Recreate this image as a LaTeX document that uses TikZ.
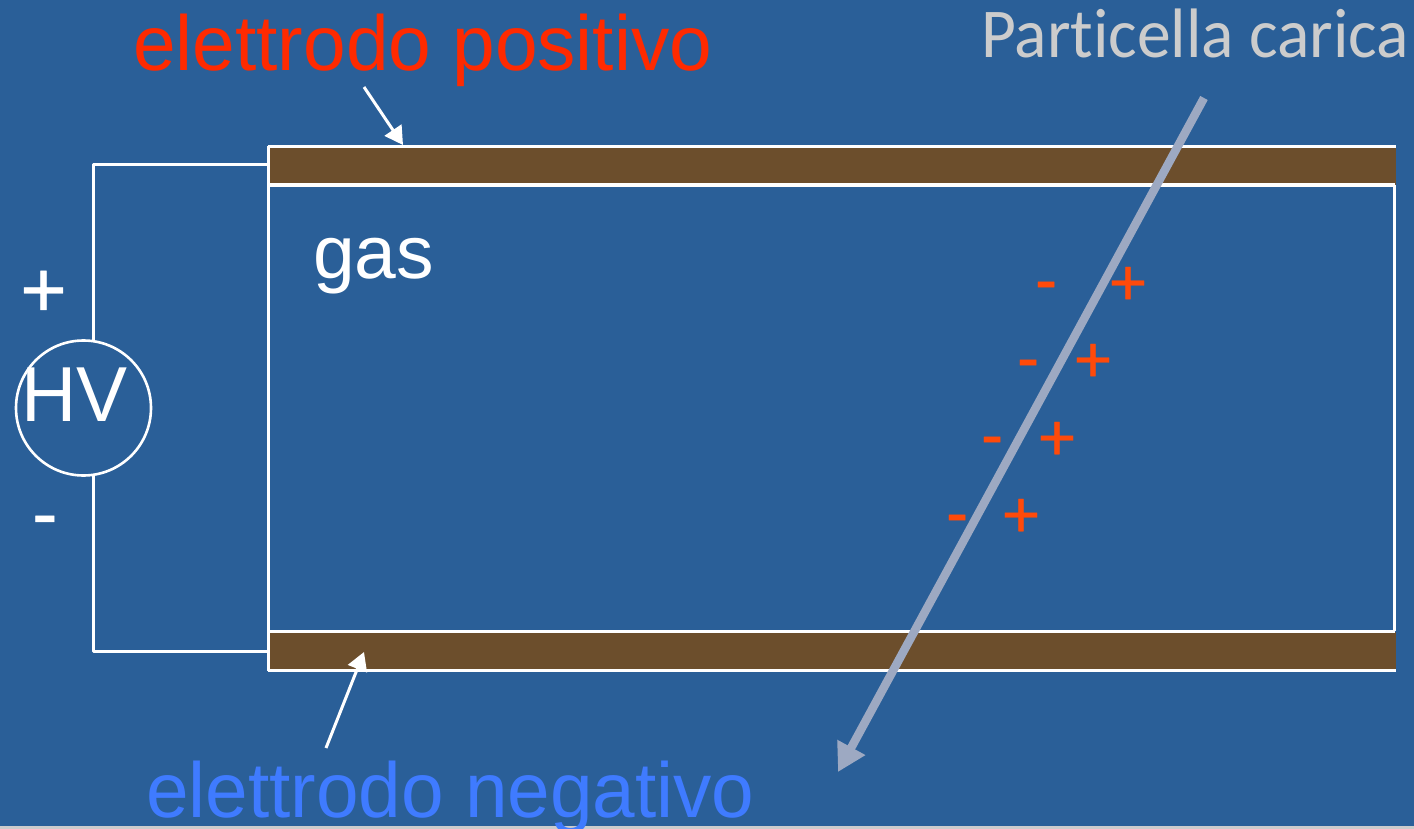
\documentclass[tikz,border=0pt]{standalone}
\usepackage{fontspec}
\setmainfont{Liberation Sans}
\newfontfamily\partfont[Ligatures=NoCommon,Contextuals=NoAlternate]{Carlito}
\newfontfamily\boldishfont[FakeBold=0.6]{Liberation Sans}
\usetikzlibrary{arrows.meta}
\definecolor{bgblue}{HTML}{2A5F98}
\definecolor{brownel}{HTML}{6C4E2C}
\definecolor{trackc}{HTML}{9DA9C2}
\definecolor{ionc}{HTML}{FF4A0A}
\definecolor{redt}{HTML}{FF2A00}
\definecolor{bluet}{HTML}{3F7BFF}
\definecolor{grayt}{HTML}{CCCCCC}
\tikzset{
  x=1pt,y=-1pt,
  wire/.style={draw=white,line width=3pt},
  electrode/.style={fill=brownel,draw=none},
  pointer/.style={draw=white,line width=3pt,-{Triangle[length=18pt,width=20pt,fill=white]}},
  track/.style={draw=trackc,line width=8.5pt,-{Triangle[length=28pt,width=30pt,fill=trackc]}},
  ion/.style={text=ionc,font=\boldishfont\fontsize{66}{66}\selectfont,inner sep=0pt},
  lab/.style={inner sep=0pt,anchor=base west,transform shape},
}
\begin{document}
\begin{tikzpicture}
\useasboundingbox (0,0) rectangle (1414,829);
\fill[bgblue] (0,0) rectangle (1414,829);
\fill[grayt] (0,826) rectangle (1414,829);
% electrodes
\fill[electrode] (268,146) rectangle (1396,185);
\fill[electrode] (268,632) rectangle (1396,671);
\coordinate (tl) at (268,146.5);
\coordinate (tr) at (1396,146.5);
\coordinate (il) at (268,184.7);
\coordinate (ir) at (1394.5,184.7);
\coordinate (bl) at (268,631);
\coordinate (br) at (1394.5,631);
\coordinate (ol) at (268,670.5);
\coordinate (or) at (1396,670.5);
\draw[wire] (tl) -- (tr);
\draw[wire,line width=3.8pt] (il) -- (ir);
\draw[wire] (bl) -- (br);
\draw[wire] (ol) -- (or);
\draw[wire] (tl) -- (ol);
\draw[wire] (ir) -- (br);
% HV source
\node[circle,draw=white,line width=2.6pt,minimum size=135pt,inner sep=0pt] (hv) at (83.5,408) {};
\node[lab,text=white,font=\fontsize{78}{78}\selectfont,xscale=.98] (hvt) at (21,421) {HV};
\coordinate (wtop) at (93,165);
\coordinate (wbot) at (93,651);
\coordinate (wtopin) at (268,165);
\coordinate (wbotin) at (268,651);
\coordinate (cta) at (93,341);
\coordinate (ctb) at (93,476);
\draw[wire,line join=round] (cta) -- (wtop) -- (wtopin);
\draw[wire,line join=round] (ctb) -- (wbot) -- (wbotin);
\node[lab,text=white,font=\boldishfont\fontsize{80}{80}\selectfont] (plus) at (20,317) {+};
\node[lab,text=white,font=\boldishfont\fontsize{76}{76}\selectfont] (minus) at (32,539) {-};
% labels
\node[lab,text=redt,font=\fontsize{78}{78}\selectfont,xscale=.982] (pos) at (133,71) {elettrodo positivo};
\node[lab,text=bluet,font=\fontsize{78}{78}\selectfont,xscale=.981] (neg) at (146,817) {elettrodo negativo};
\node[lab,text=grayt,font=\partfont\fontsize{70}{70}\selectfont,xscale=.965] (part) at (981,58) {Particella carica};
\node[lab,text=white,font=\fontsize{75}{75}\selectfont] (gas) at (313,278) {gas};
% pointers
\coordinate (pa) at (364,87);
\coordinate (pb) at (403,145);
\coordinate (na) at (326,748);
\coordinate (nb) at (364,652);
\draw[pointer] (pa) -- (pb);
\draw[pointer] (na) -- (nb);
% track
\coordinate (ta) at (1204,98);
\coordinate (tb) at (838,772);
\draw[track] (ta) -- (tb);
% ions
\node[ion] (m1) at (1046,292) {-};
\node[ion] (p1) at (1128,286) {+};
\node[ion] (m2) at (1028,370) {-};
\node[ion] (p2) at (1093,363) {+};
\node[ion] (m3) at (992,447) {-};
\node[ion] (p3) at (1057,441) {+};
\node[ion] (m4) at (957,525) {-};
\node[ion] (p4) at (1021,518) {+};
\end{tikzpicture}
\end{document}
